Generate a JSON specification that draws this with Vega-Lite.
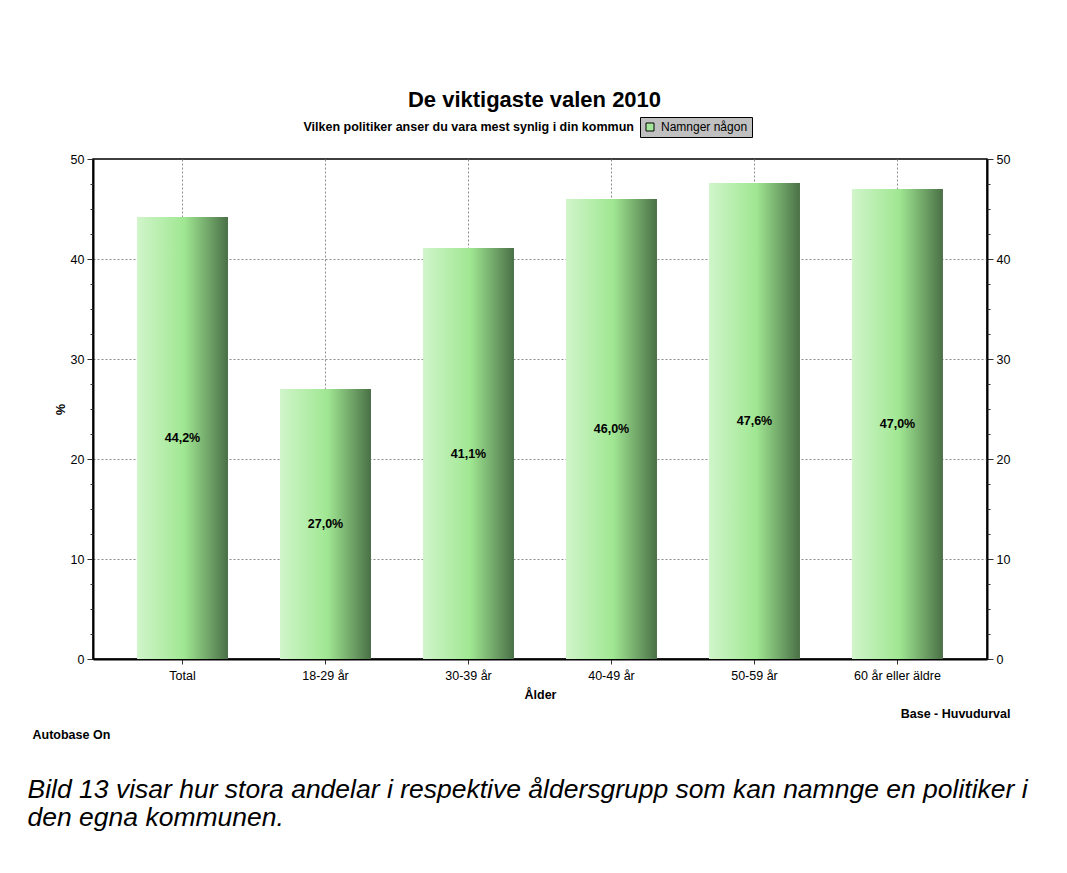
{
  "$schema": "https://vega.github.io/schema/vega-lite/v6.json",
  "width": 894,
  "height": 500,
  "autosize": {"type": "none"},
  "padding": {"left": 93, "top": 159, "right": 80, "bottom": 214},
  "background": "#ffffff",
  "config": {
    "font": "Liberation Sans",
    "view": {"stroke": "#000000", "strokeWidth": 1.5},
    "locale": {"number": {"decimal": ",", "thousands": " ", "grouping": [3], "currency": ["", "%"]}},
    "axis": {"titleLimit": 1500, "labelColor": "#000000", "titleColor": "#000000", "labelFontSize": 12.5, "titleFontSize": 12.5, "titleFontWeight": "bold"}
  },
  "data": {
    "values": [
      {"group": "Total", "value": 44.2},
      {"group": "18-29 år", "value": 27.0},
      {"group": "30-39 år", "value": 41.1},
      {"group": "40-49 år", "value": 46.0},
      {"group": "50-59 år", "value": 47.6},
      {"group": "60 år eller äldre", "value": 47.0}
    ]
  },
  "resolve": {"scale": {"y": "independent"}, "axis": {"x": "independent", "y": "independent"}},
  "layer": [
    {
      "mark": {
        "type": "bar",
        "fill": {
          "gradient": "linear", "x1": 0, "x2": 1, "y1": 0, "y2": 0,
          "stops": [
            {"offset": 0, "color": "#d0f5ca"},
            {"offset": 0.52, "color": "#a0e792"},
            {"offset": 1, "color": "#4a7046"}
          ]
        }
      },
      "encoding": {
        "x": {
          "field": "group", "type": "nominal", "sort": null,
          "scale": {"paddingInner": 0.364, "paddingOuter": 0.308},
          "axis": {
            "orient": "bottom", "labelAngle": 0, "bandPosition": 0.5,
            "grid": true, "gridColor": "#8c8c8c", "gridDash": [2, 2], "gridWidth": 1,
            "domainColor": "#000000", "domainWidth": 2,
            "tickColor": "#333333", "tickSize": 5, "tickWidth": 1,
            "labelPadding": 5,
            "title": "Ålder", "titleX": 447, "titleY": 39, "titleAlign": "center", "titleBaseline": "alphabetic"
          }
        },
        "y": {
          "field": "value", "type": "quantitative",
          "scale": {"domain": [0, 50], "nice": false},
          "axis": {
            "orient": "left", "values": [0, 10, 20, 30, 40, 50],
            "tickSize": 6, "tickColor": "#333333",
            "domainColor": "#000000", "domainWidth": 2,
            "labelPadding": 3,
            "grid": true, "gridColor": "#8c8c8c", "gridDash": [2, 2], "gridWidth": 1,
            "gridOpacity": {"condition": {"test": "datum.value === 0 || datum.value === 50", "value": 0}, "value": 1},
            "title": "%", "titleX": -33, "titleY": 250, "titleAngle": -90, "titleAlign": "center", "titleBaseline": "middle"
          }
        }
      }
    },
    {
      "mark": {"type": "text", "fontWeight": "bold", "fontSize": 12.5, "color": "#000000", "baseline": "middle", "align": "center"},
      "encoding": {
        "x": {
          "field": "group", "type": "nominal", "sort": null,
          "axis": {
            "orient": "bottom", "labels": false, "ticks": false, "domain": false, "grid": false,
            "title": "Base - Huvudurval", "titleX": 917, "titleY": 58, "titleAlign": "right", "titleBaseline": "alphabetic"
          }
        },
        "y": {"field": "value", "type": "quantitative", "scale": {"domain": [0, 100], "nice": false}, "axis": null},
        "text": {"field": "value", "type": "quantitative", "format": "$.1f"}
      }
    },
    {
      "mark": {"type": "bar", "opacity": 0},
      "encoding": {
        "x": {
          "field": "group", "type": "nominal", "sort": null,
          "axis": {
            "orient": "bottom", "labels": false, "ticks": false, "domain": false, "grid": false,
            "title": "Autobase On", "titleX": -61, "titleY": 79, "titleAlign": "left", "titleBaseline": "alphabetic"
          }
        },
        "y": {
          "field": "value", "type": "quantitative",
          "scale": {"domain": [0, 50], "nice": false},
          "axis": {
            "orient": "left",
            "values": [2.5, 5, 7.5, 12.5, 15, 17.5, 22.5, 25, 27.5, 32.5, 35, 37.5, 42.5, 45, 47.5],
            "tickSize": 3, "tickColor": "#333333", "labels": false, "domain": false, "grid": false,
            "title": "Vilken politiker anser du vara mest synlig i din kommun",
            "titleAngle": 0, "titleX": 210, "titleY": -29, "titleAlign": "left", "titleBaseline": "alphabetic"
          }
        },
        "color": {
          "datum": "Namnger någon", "type": "nominal",
          "scale": {"range": ["#a6e89a"]},
          "legend": {
            "orient": "none", "legendX": 547, "legendY": -42, "title": null,
            "fillColor": "#c0c0c0", "strokeColor": "#000000", "padding": 4,
            "symbolType": "square", "symbolSize": 64, "symbolStrokeColor": "#000000", "symbolStrokeWidth": 1,
            "symbolOpacity": 1, "labelFontSize": 12, "labelColor": "#000000", "labelOffset": 5,
            "labelExpr": "datum.label + '\u00a0\u00a0\u00a0\u00a0'"
          }
        }
      }
    },
    {
      "mark": {"type": "bar", "opacity": 0},
      "encoding": {
        "x": {
          "field": "group", "type": "nominal", "sort": null,
          "axis": {
            "orient": "bottom", "labels": false, "ticks": false, "domain": false, "grid": false,
            "title": ["Bild 13 visar hur stora andelar i respektive åldersgrupp som kan namnge en politiker i", "den egna kommunen."],
            "titleX": -66, "titleY": 138, "titleAlign": "left", "titleBaseline": "alphabetic",
            "titleFontSize": 26.5, "titleFontStyle": "italic", "titleFontWeight": "normal", "titleLineHeight": 28
          }
        },
        "y": {
          "field": "value", "type": "quantitative",
          "scale": {"domain": [0, 50], "nice": false},
          "axis": {
            "orient": "right", "values": [0, 10, 20, 30, 40, 50],
            "tickSize": 6, "tickColor": "#333333",
            "domainColor": "#000000", "domainWidth": 2,
            "labelPadding": 3, "grid": false,
            "title": "De viktigaste valen 2010", "titleFontSize": 22,
            "titleAngle": 0, "titleX": -453, "titleY": -53, "titleAlign": "center", "titleBaseline": "alphabetic"
          }
        }
      }
    },
    {
      "mark": {"type": "bar", "opacity": 0},
      "encoding": {
        "x": {"field": "group", "type": "nominal", "sort": null, "axis": null},
        "y": {
          "field": "value", "type": "quantitative",
          "scale": {"domain": [0, 50], "nice": false},
          "axis": {
            "orient": "right",
            "values": [2.5, 5, 7.5, 12.5, 15, 17.5, 22.5, 25, 27.5, 32.5, 35, 37.5, 42.5, 45, 47.5],
            "tickSize": 3, "tickColor": "#333333", "labels": false, "domain": false, "grid": false, "title": null
          }
        }
      }
    }
  ]
}
